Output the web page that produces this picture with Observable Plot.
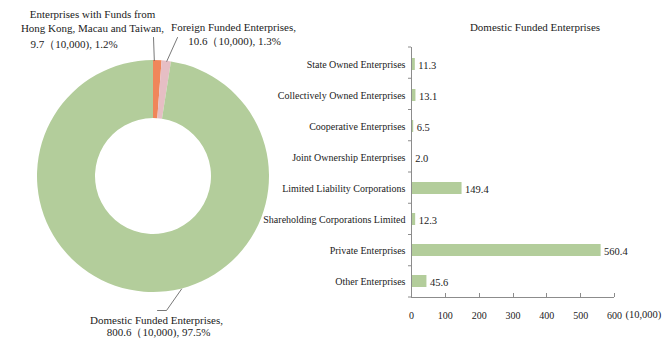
<!DOCTYPE html>
<html>
<head>
<meta charset="utf-8">
<script src="https://cdn.jsdelivr.net/npm/d3@7"></script>
<script src="https://cdn.jsdelivr.net/npm/@observablehq/plot@0.6"></script>
<style>
  html, body { margin: 0; padding: 0; background: #fff; }
  #wrap { position: relative; width: 669px; height: 339px; overflow: hidden; font-family: 'Liberation Serif', serif; }
  #left { position: absolute; left: 0; top: 0; }
  #right { position: absolute; left: 260px; top: 0; }
  svg text { font-family: 'Liberation Serif', serif; }
</style>
</head>
<body>
<div id="wrap"><div id="left"></div><div id="right"></div></div>
<script>
// ---------- data ----------
const pieCategories = [
  "Enterprises with Funds from Hong Kong, Macau and Taiwan",
  "Foreign Funded Enterprises",
  "Domestic Funded Enterprises"
];
const pieLabelNames = [
  "Enterprises with Funds from\nHong Kong, Macau and Taiwan,",
  "Foreign Funded Enterprises,",
  "Domestic Funded Enterprises,"
];
const pieValues = [9.7, 10.6, 800.6];
const pieColors = ["#f0865a", "#e6bec4", "#b3cd9b"];

const barCategories = [
  "State Owned Enterprises",
  "Collectively Owned Enterprises",
  "Cooperative Enterprises",
  "Joint Ownership Enterprises",
  "Limited Liability Corporations",
  "Shareholding Corporations Limited",
  "Private Enterprises",
  "Other Enterprises"
];
const barValues = [11.3, 13.1, 6.5, 2.0, 149.4, 12.3, 560.4, 45.6];
const xTicks = [0, 100, 200, 300, 400, 500, 600];
const unitLabel = "(10,000)";
const barTitle = "Domestic Funded Enterprises";

// ---------- layout (not data) ----------
const FONT = "'Liberation Serif', serif";
const TEXT = "#222";
const donut = {cx: 153, cy: 176, outer: 116, inner: 58};

const total = d3.sum(pieValues);
const pct = d3.format(".1%");
const pieData = pieCategories.map((c, i) => ({
  category: c, name: pieLabelNames[i], value: pieValues[i], color: pieColors[i],
  valueText: `${pieValues[i].toFixed(1)}（10,000), ${pct(pieValues[i] / total)}`
}));
const arcs = d3.pie().sort(null).value(d => d.value)(pieData);

// label placements (pixel positions in the left panel)
const labelRows = [
  {text: pieData[0].name, x: 92, y: 20, anchor: "middle", lh: 1.27},
  {text: pieData[0].valueText, x: 30, y: 44, anchor: "start", lh: 1},
  {text: pieData[1].name, x: 233, y: 27, anchor: "middle", lh: 1},
  {text: pieData[1].valueText, x: 234, y: 41, anchor: "middle", lh: 1},
  {text: pieData[2].name, x: 156, y: 320, anchor: "middle", lh: 1},
  {text: pieData[2].valueText, x: 158, y: 332, anchor: "middle", lh: 1}
];
function rim(a) { return [donut.cx + donut.outer * Math.sin(a), donut.cy - donut.outer * Math.cos(a)]; }
const midA = a => (a.startAngle + a.endAngle) / 2;
const leaders = [];
[[rim(midA(arcs[0]) - 0.03), [153, 37]],
 [rim(midA(arcs[1])), [177, 37]],
 [rim(166 * Math.PI / 180), [166, 310], [157, 310]]
].forEach((pts, k) => pts.forEach(p => leaders.push({k, x: p[0], y: p[1]})));

function donutMark(index, scales, values, dimensions) {
  const sx = scales.x, sy = scales.y;
  const g = d3.create("svg:g").attr("transform", `translate(${sx(donut.cx)},${sy(donut.cy)})`);
  const arcGen = d3.arc().innerRadius(donut.inner).outerRadius(donut.outer);
  g.selectAll("path").data(arcs).join("path")
    .attr("d", arcGen).attr("fill", d => d.data.color);
  return g.node();
}

const left = Plot.plot({
  width: 300, height: 339,
  marginTop: 0, marginBottom: 0, marginLeft: 0, marginRight: 0,
  style: {background: "transparent", fontFamily: FONT, color: TEXT, overflow: "visible"},
  x: {domain: [0, 300], range: [0, 300], axis: null},
  y: {domain: [0, 339], range: [0, 339], axis: null},
  marks: [
    donutMark,
    Plot.line(leaders, {x: "x", y: "y", z: "k", stroke: "#555", strokeWidth: 0.8}),
    ...labelRows.map(r => Plot.text([r], {
      x: "x", y: "y", text: "text", textAnchor: r.anchor, lineHeight: r.lh,
      fontSize: 11, fill: TEXT, fontFamily: FONT
    }))
  ]
});
document.getElementById("left").appendChild(left);

// ---------- bar chart ----------
const barData = barCategories.map((c, i) => ({category: c, value: barValues[i]}));

function axisDecor(index, scales, values, dimensions) {
  const {width, height, marginTop, marginBottom, marginLeft, marginRight} = dimensions;
  const top = marginTop, bottom = height - marginBottom, l = marginLeft, r = width - marginRight;
  const g = d3.create("svg:g").attr("stroke", "#8c8c8c").attr("stroke-width", 1).attr("fill", "none");
  g.append("line").attr("x1", l + 0.5).attr("x2", l + 0.5).attr("y1", top).attr("y2", bottom);
  g.append("line").attr("x1", l).attr("x2", r).attr("y1", bottom + 0.5).attr("y2", bottom + 0.5);
  const n = barCategories.length;
  for (let i = 0; i <= n; i++) {
    const yy = top + (bottom - top) * i / n;
    g.append("line").attr("x1", l - 3).attr("x2", l).attr("y1", yy).attr("y2", yy);
  }
  xTicks.forEach(t => {
    if (t === 0) return;
    const xx = Math.round(scales.x(t)) + 0.5;
    g.append("line").attr("x1", xx).attr("x2", xx).attr("y1", bottom - 4).attr("y2", bottom);
  });
  return g.node();
}

const right = Plot.plot({
  width: 409, height: 339,
  marginLeft: 151, marginRight: 55, marginTop: 47, marginBottom: 42,
  style: {background: "transparent", fontFamily: FONT, fontSize: "10px", color: TEXT, overflow: "visible"},
  x: {domain: [0, 600], ticks: xTicks, tickSize: 0, tickPadding: 14, label: null, tickFormat: d => String(d)},
  y: {domain: barCategories, paddingInner: 0.62, paddingOuter: 0.31, tickSize: 0, tickPadding: 6, label: null},
  marks: [
    Plot.barX(barData, {x: "value", y: "category", fill: "#b3cd9b"}),
    axisDecor,
    Plot.text(barData, {x: "value", y: "category", text: d => d.value.toFixed(1),
      textAnchor: "start", dx: 3, dy: 1, fontSize: 10.5, fill: TEXT, fontFamily: FONT}),
    Plot.text([barTitle], {frameAnchor: "top", dx: 22, dy: -24, fontSize: 11, fill: TEXT, fontFamily: FONT}),
    Plot.text([unitLabel], {frameAnchor: "bottom-right", textAnchor: "start", dx: 11, dy: 20, fontSize: 10.5, fill: TEXT, fontFamily: FONT})
  ]
});
document.getElementById("right").appendChild(right);
</script>
</body>
</html>
